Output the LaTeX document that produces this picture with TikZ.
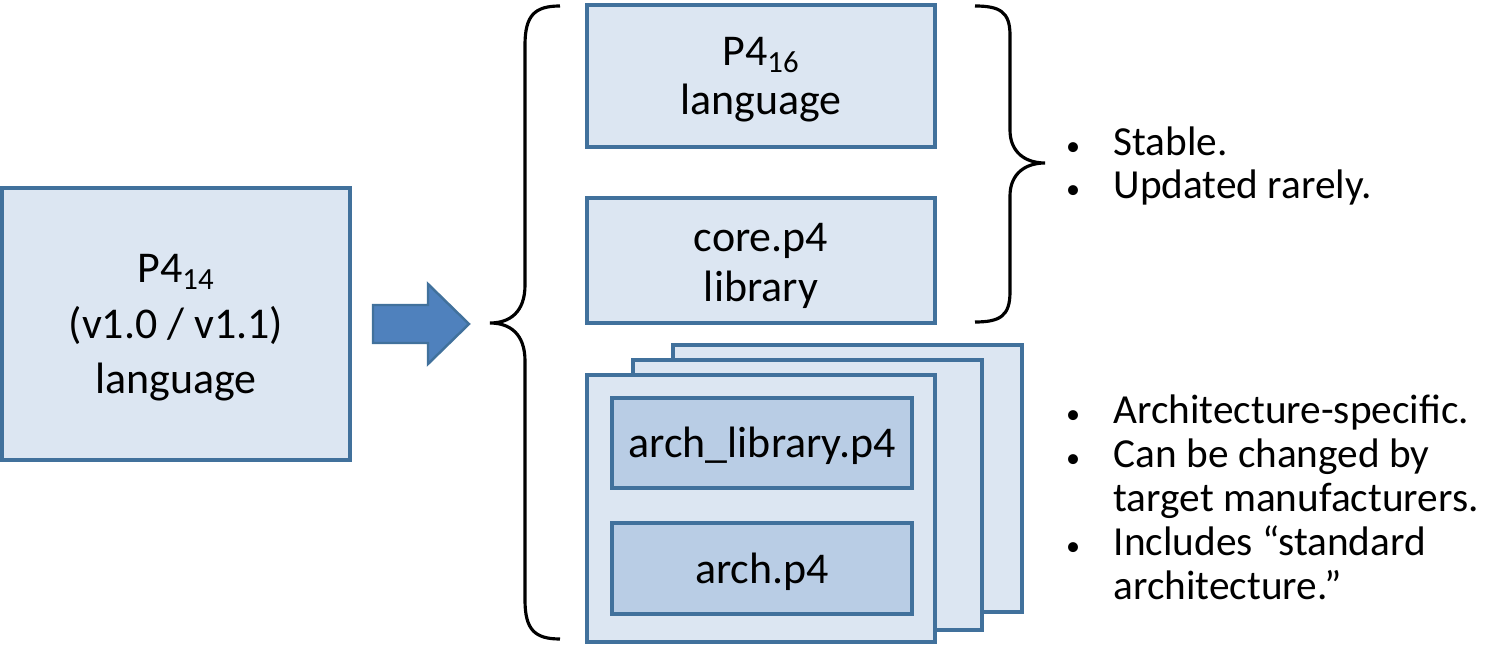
\documentclass[tikz,border=0pt]{standalone}
\usepackage{fontspec}
\setmainfont{Carlito}
\begin{document}
\begin{tikzpicture}[x=0.02cm,y=-0.02cm,
  box/.style={draw=bord,fill=lite,line width=2.2pt},
  inner/.style={draw=bord,fill=dark,line width=2.2pt},
  lbl/.style={font=\fontsize{25}{28}\selectfont,align=center},
  btxt/.style={font=\fontsize{23.5}{25}\selectfont,anchor=west,align=left},
  br/.style={line width=1.8pt,black}]
\definecolor{bord}{HTML}{41719C}
\definecolor{lite}{HTML}{DCE6F2}
\definecolor{dark}{HTML}{B9CDE5}
\definecolor{arr}{HTML}{4F81BD}
\newcommand{\bul}{\makebox[27pt][l]{\fontsize{16}{16}\selectfont•}}
\newcommand{\nob}{\makebox[27pt][l]{}}
\useasboundingbox (0,0) rectangle (1489,648);
% left box
\draw[box] (2,188) rectangle (350,460);
\node[lbl,font=\fontsize{25}{31.5}\selectfont] (p14) at (176,328) {P4\textsubscript{14}\\(v1.0 / v1.1)\\language};
% arrow
\draw[draw=bord,fill=arr,line width=1.4pt] (373,305) -- (428,305) -- (428,284) -- (469,324) -- (428,364) -- (428,343) -- (373,343) -- cycle;
% left brace
\draw[br] (560,6) .. controls (535,6) and (525,15) .. (525,45) -- (525,285) .. controls (525,312) and (510,323) .. (490,323)
  .. controls (510,323) and (525,334) .. (525,361) -- (525,600) .. controls (525,630) and (535,639) .. (560,639);
% top boxes
\draw[box] (587,5) rectangle (935,147);
\node[lbl] (p16) at (761,80) {P4\textsubscript{16}\\language};
\draw[box] (587,198) rectangle (935,323);
\node[lbl] (core) at (761,266) {core.p4\\library};
% stacked
\draw[box] (673,345) rectangle (1022,612);
\draw[box] (633,360) rectangle (982,630);
\draw[box] (587,375) rectangle (935,642);
\draw[inner] (612,398) rectangle (912,488);
\node[lbl] (al) at (762,446) {arch\_library.p4};
\draw[inner] (612,523) rectangle (912,614);
\node[lbl] (ap) at (762,572) {arch.p4};
% right brace
\draw[br] (975,6) .. controls (1000,6) and (1010,12) .. (1010,35) -- (1010,130) .. controls (1010,152) and (1025,163) .. (1045,163)
  .. controls (1025,163) and (1010,174) .. (1010,196) -- (1010,292) .. controls (1010,316) and (1000,322) .. (975,322);
% bullets
\node[btxt] (b1) at (1060,166) {\bul Stable.\\\bul Updated rarely.};
\node[btxt] (b2) at (1060,497) {\bul Architecture-specific.\\\bul Can be changed by\\\nob target manufacturers.\\\bul Includes “standard\\\nob architecture.”};
\end{tikzpicture}
\end{document}
